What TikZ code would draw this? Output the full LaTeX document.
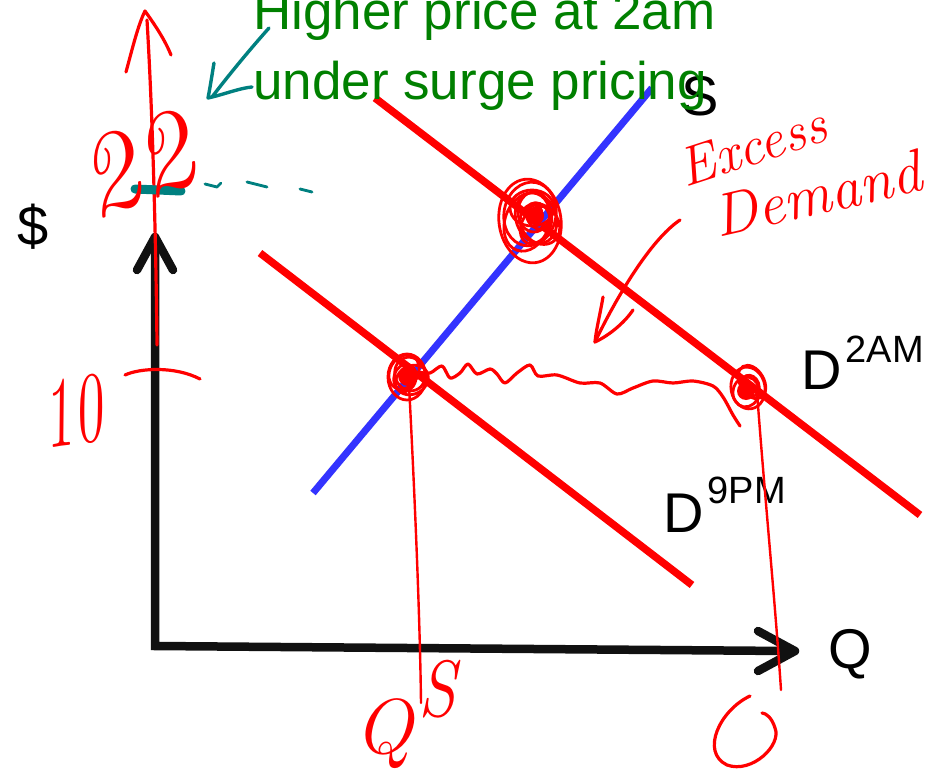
\documentclass[tikz,border=0pt]{standalone}
\usepackage{fontspec}
\newfontfamily\arial{Liberation Sans}
\usepackage{graphicx}
\definecolor{dred}{RGB}{255,0,0}
\definecolor{sblue}{RGB}{51,51,255}
\definecolor{tgreen}{RGB}{0,128,0}
\definecolor{tealc}{RGB}{0,128,128}
\definecolor{axblack}{RGB}{17,17,17}
\begin{document}
\begin{tikzpicture}[x=1pt,y=-1pt,
  ax/.style={line width=8.5pt, color=axblack, line cap=round, line join=round},
  dline/.style={line width=7.5pt, color=dred},
  sline/.style={line width=7pt, color=sblue},
  pen/.style={line width=3.2pt, color=dred, line cap=round, line join=round},
  scrib/.style={line width=2.8pt, color=dred},
  tpen/.style={line width=3.4pt, color=tealc, line cap=round, line join=round},
  lab/.style={font=\arial\fontsize{56}{60}\selectfont, inner sep=0pt},
  hw/.style={text=dred, inner sep=0pt}
]
\useasboundingbox (0,0) rectangle (928,773);
\fill[white] (0,0) rectangle (928,773);

% axes
\coordinate (ytip) at (155,237);
\coordinate (xtip) at (795,651);
\coordinate (orig) at (155,646);
\draw[ax, line cap=butt, line join=miter] (155,245) -- (orig) -- (788,651);
\draw[ax] (137,270) -- (ytip) -- (173,270);
\draw[ax] (758,631) -- (xtip) -- (758,671);

% labels
\node[lab, anchor=base] (dollar) at (33,245) {\$};
\node[lab, anchor=base] (qlab) at (850,668) {Q};
\node[lab, anchor=base] (slab) at (700,116) {S};
\node[lab, anchor=base west] (d2am) at (801,389) {D\hspace{4pt}\raisebox{27pt}{\fontsize{38}{38}\selectfont 2AM}};
\node[lab, anchor=base west] (d9pm) at (663,532) {D\hspace{4pt}\raisebox{29pt}{\fontsize{38}{38}\selectfont 9PM}};

% demand and supply curves
\coordinate (d2a) at (375,98);  \coordinate (d2b) at (920,515);
\coordinate (d9a) at (260,253); \coordinate (d9b) at (692,585);
\coordinate (sa) at (313,493);  \coordinate (sb) at (652,88);
\draw[dline] (d2a) -- (d2b);
\draw[dline] (d9a) -- (d9b);
\draw[sline] (sa) -- (sb);

% title
\node[anchor=base west, inner sep=0pt, text=tgreen, font=\arial\fontsize{53}{60}\selectfont] (t1) at (253,30) {Higher price at 2am};
\node[anchor=base west, inner sep=0pt, text=tgreen, font=\arial\fontsize{53}{60}\selectfont] (t2) at (253,100) {under surge pricing};

% red hand-drawn price arrow along the axis
\draw[pen] (157,345) .. controls (156,250) and (153,120) .. (147,20);
\draw[pen] (126,72) .. controls (132,50) and (138,25) .. (145,11) .. controls (155,25) and (165,40) .. (171,55);
\draw[pen] (125,375) .. controls (140,368) and (175,366) .. (200,379);

% teal arrow and dashes
\draw[tpen] (269,28) .. controls (245,55) and (225,80) .. (212,97);
\draw[tpen] (214,63) .. controls (212,75) and (210,88) .. (208,98) .. controls (222,95) and (240,88) .. (252,87);
\draw[tealc, line width=9pt, line cap=round] (135,189) -- (181,191);
\draw[tpen, line width=2.8pt] (205,184) -- (217,187) -- (221,183);
\draw[tpen, line width=2.8pt] (247,182) -- (267,187);
\draw[tpen, line width=2.8pt] (300,189) -- (312,192);

% scribbled equilibrium points
\foreach \cx/\cy/\rx/\ry/\a in {530/221/31/42/8, 530/214/26/32/-10, 536/218/20/26/20, 534/212/16/20/0, 538/216/11/14/30, 535/214/7/9/0, 527/222/22/30/-20, 540/224/18/22/40, 532/208/22/18/0, 536/225/14/20/-30}
  \draw[scrib, rotate around={\a:(\cx,\cy)}] (\cx,\cy) ellipse [x radius=\rx, y radius=\ry];
\fill[dred] (535,216) circle (9);
\foreach \cx/\cy/\rx/\ry/\a in {407/377/19/23/0, 410/374/15/17/20, 405/378/11/14/-15, 409/375/7/9/0, 412/380/17/14/30, 404/372/14/18/-30}
  \draw[scrib, rotate around={\a:(\cx,\cy)}] (\cx,\cy) ellipse [x radius=\rx, y radius=\ry];
\fill[dred] (408,376) circle (10);
\foreach \cx/\cy/\rx/\ry/\a in {748/388/17/21/10, 746/392/13/15/-10, 750/386/9/11/20, 752/382/12/18/30}
  \draw[scrib, rotate around={\a:(\cx,\cy)}] (\cx,\cy) ellipse [x radius=\rx, y radius=\ry];
\fill[dred] (746,391) circle (9);

% wavy excess-demand gap
\draw[pen] plot[smooth] coordinates {(418,372) (430,373) (442,366) (450,378) (460,373) (468,364) (477,374) (490,369) (497,374) (505,383) (517,373) (530,365) (538,376) (557,375) (580,383) (600,383) (617,394) (633,388) (653,381) (673,383) (693,381) (713,386) (723,397) (733,415) (740,426)};

% drop lines to quantities
\draw[pen, line width=2.4pt] (409,385) .. controls (415,500) and (420,620) .. (421,703);
\draw[pen, line width=2.4pt] (757,392) .. controls (765,500) and (775,600) .. (781,690);
\draw[pen] (750,696) .. controls (720,710) and (700,752) .. (727,765) .. controls (752,774) and (782,745) .. (775,728) .. controls (772,718) and (766,713) .. (762,713);

% arrow from "Demand"
\draw[pen] (680,220) .. controls (650,240) and (615,300) .. (595,342);
\draw[pen] (603,297) .. controls (600,315) and (596,330) .. (595,342) .. controls (610,335) and (625,322) .. (633,310);

% handwritten labels
\node[hw, rotate=20, font=\itshape\fontsize{115}{115}\selectfont] (p22) at (135,165) {22};
\node[hw, rotate=8, font=\itshape\fontsize{100}{100}\selectfont] (p10) at (72,412) {\scalebox{0.6}[1]{10}};
\node[hw, font=\itshape\fontsize{78}{78}\selectfont] (qs) at (384,734) {Q};
\node[hw, font=\itshape\fontsize{80}{80}\selectfont] (qsup) at (437,689) {\scalebox{0.85}[1]{S}};
\node[hw, rotate=18, font=\itshape\fontsize{55}{55}\selectfont] (exc) at (752,146) {Excess};
\node[hw, rotate=13, font=\itshape\fontsize{60}{60}\selectfont] (dem) at (817,194) {Demand};
\end{tikzpicture}
\end{document}
